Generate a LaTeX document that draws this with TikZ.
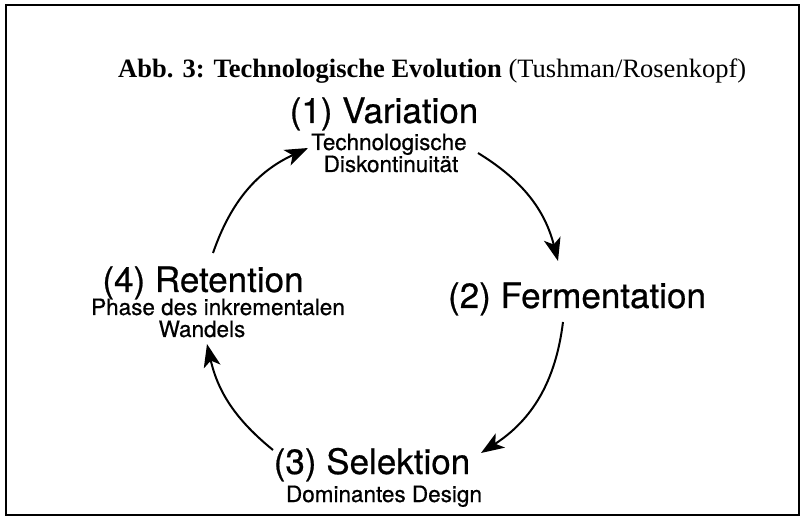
\documentclass[tikz,border=0pt]{standalone}
\usepackage{fontspec}
\setmainfont{Liberation Serif}
\newfontfamily\scanfont[FakeBold=0.6]{TeX Gyre Heros}
\usetikzlibrary{arrows.meta}
\begin{document}
\begin{tikzpicture}[x=1pt,y=1pt,
  big/.style={font=\scanfont\fontsize{35}{35}\selectfont, inner sep=0pt, anchor=base},
  small/.style={font=\scanfont\fontsize{22.5}{22.5}\selectfont, inner sep=0pt, anchor=base},
  cyc/.style={line width=2pt, -{Stealth[length=23pt,width=17pt,inset=6pt]}},
  frame/.style={line width=2pt}
]
\useasboundingbox (0,0) rectangle (801,520);
\draw[frame] (6,5) rectangle (799,515);
\node[anchor=base west, inner sep=0pt, font=\fontsize{26.5}{26.5}\selectfont] (title) at (118,442)
  {\textbf{Abb.\hspace{0.35em}3: Technologische Evolution} (Tushman/Rosenkopf)};
\node[big] (v1) at (384,397) {(1) Variation};
\node[small] (v1a) at (389,370) {Technologische};
\node[small] (v1b) at (391,348) {Diskontinuität};
\node[big] (f2) at (577,212) {(2) Fermentation};
\node[big] (s3) at (372,46) {(3) Selektion};
\node[small] (s3a) at (384,18) {Dominantes Design};
\node[big] (r4) at (203,228) {(4) Retention};
\node[small] (r4a) at (218,205) {Phase des inkrementalen};
\node[small] (r4b) at (202,183) {Wandels};
\coordinate (a1s) at (213,267); \coordinate (a1e) at (308,372);
\coordinate (a2s) at (478,367); \coordinate (a2e) at (558,259);
\coordinate (a3s) at (563,198); \coordinate (a3e) at (481,67);
\coordinate (a4s) at (273,70);  \coordinate (a4e) at (207,176);
\draw[cyc] (a1s) to[bend left=23] (a1e);
\draw[cyc] (a2s) to[bend left=22] (a2e);
\draw[cyc] (a3s) to[bend left=25] (a3e);
\draw[cyc] (a4s) to[bend left=19] (a4e);
\end{tikzpicture}
\end{document}
